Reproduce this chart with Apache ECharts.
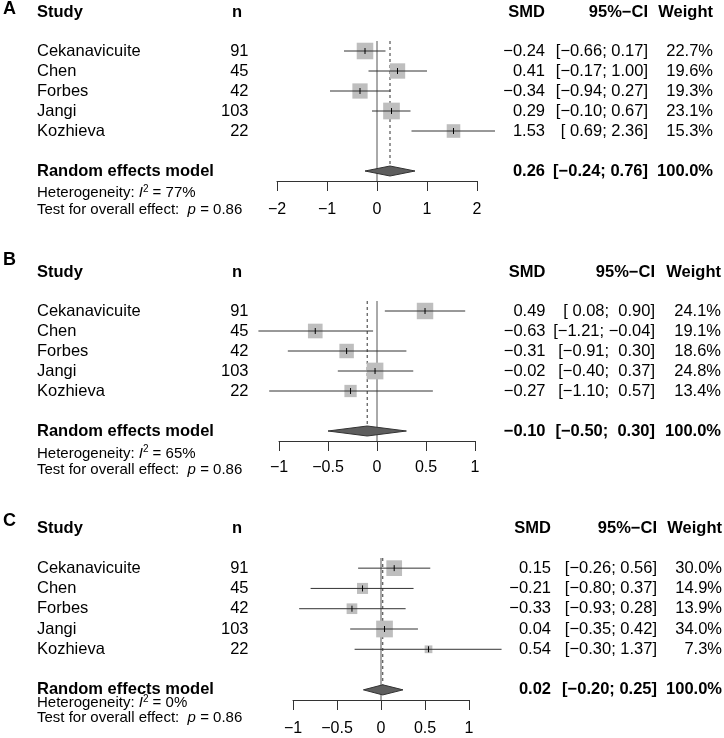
<!DOCTYPE html>
<html>
<head>
<meta charset="utf-8">
<script src="https://cdn.jsdelivr.net/npm/echarts@6/dist/echarts.min.js"></script>
<style>html,body{margin:0;padding:0;background:#fff}#c{width:724px;height:738px}</style>
</head>
<body>
<div id="c"></div>
<script>
// ---------- data ----------
const studies = ['Cekanavicuite', 'Chen', 'Forbes', 'Jangi', 'Kozhieva'];
const sampleN = [91, 45, 42, 103, 22];

const smdA = [-0.24, 0.41, -0.34, 0.29, 1.53];
const lowA = [-0.66, -0.17, -0.94, -0.10, 0.69];
const upA = [0.17, 1.00, 0.27, 0.67, 2.36];
const weightA = [22.7, 19.6, 19.3, 23.1, 15.3];
const pooledA = [0.26, -0.24, 0.76];
const i2A = 77;

const smdB = [0.49, -0.63, -0.31, -0.02, -0.27];
const lowB = [0.08, -1.21, -0.91, -0.40, -1.10];
const upB = [0.90, -0.04, 0.30, 0.37, 0.57];
const weightB = [24.1, 19.1, 18.6, 24.8, 13.4];
const pooledB = [-0.10, -0.50, 0.30];
const i2B = 65;

const smdC = [0.15, -0.21, -0.33, 0.04, 0.54];
const lowC = [-0.26, -0.80, -0.93, -0.35, -0.30];
const upC = [0.56, 0.37, 0.28, 0.42, 1.37];
const weightC = [30.0, 14.9, 13.9, 34.0, 7.3];
const pooledC = [0.02, -0.20, 0.25];
const i2C = 0;

const pOverall = [0.86, 0.86, 0.86];
const panelLetters = ['A', 'B', 'C'];
const ticksA = [-2, -1, 0, 1, 2];
const ticksB = [-1, -0.5, 0, 0.5, 1];
const ticksC = [-1, -0.5, 0, 0.5, 1];

// ---------- layout / style ----------
const FONT = '"Liberation Sans", Arial, Helvetica, sans-serif';
const FS = 16.5, FS_HET = 15, FS_LET = 18;
const layouts = [
  {left: 277, width: 200, top: 41, height: 140, letterY: 9, colSMD: 545, colCI: 648, colW: 713, hetRow: 8.1, testRow: 8.95, margin: 21},
  {left: 279, width: 196, top: 301, height: 140, letterY: 260, colSMD: 545.5, colCI: 655, colW: 721, hetRow: 8.12, testRow: 8.95, margin: 19},
  {left: 293, width: 176, top: 558, height: 142, letterY: 521, colSMD: 551, colCI: 657, colW: 722, hetRow: 7.65, testRow: 8.4, margin: 21}
];
const panels = [
  {smd: smdA, low: lowA, up: upA, w: weightA, pooled: pooledA, i2: i2A, ticks: ticksA},
  {smd: smdB, low: lowB, up: upB, w: weightB, pooled: pooledB, i2: i2B, ticks: ticksB},
  {smd: smdC, low: lowC, up: upC, w: weightC, pooled: pooledC, i2: i2C, ticks: ticksC}
];
const ROW_MIN = 0.5, ROW_MAX = 7.5, POOLED_ROW = 7, HEADER_ROW = -0.95;
const MAX_SQ = 16.7;

const minus = s => String(s).replace('-', '\u2212');
const fmt = v => (v < 0 ? '\u2212' : '') + Math.abs(v).toFixed(2);

const chart = echarts.init(document.getElementById('c'), null, {renderer: 'canvas'});

const grids = [], xAxes = [], yAxes = [], series = [];
panels.forEach((p, i) => {
  const L = layouts[i];
  const tk = p.ticks;
  grids.push({left: L.left, width: L.width, top: L.top, height: L.height, containLabel: false});
  xAxes.push({
    type: 'value', gridIndex: i, min: tk[0], max: tk[tk.length - 1], interval: tk[1] - tk[0],
    axisLine: {show: true, onZero: false, lineStyle: {color: '#333', width: 1}},
    axisTick: {show: true, length: 10, lineStyle: {color: '#333', width: 1}},
    axisLabel: {margin: L.margin, fontSize: 16, color: '#000', fontFamily: FONT, formatter: v => minus(v)},
    splitLine: {show: false}
  });
  yAxes.push({type: 'value', gridIndex: i, inverse: true, min: ROW_MIN, max: ROW_MAX, show: false});

  const maxW = Math.max(...p.w);
  // reference lines + diamond
  series.push({
    type: 'custom', xAxisIndex: i, yAxisIndex: i, clip: false, z: 1,
    data: [[p.pooled[0], p.pooled[1], p.pooled[2], POOLED_ROW]],
    renderItem: (params, api) => {
      const est = api.value(0), lo = api.value(1), hi = api.value(2), row = api.value(3);
      const z0 = api.coord([0, ROW_MIN]), z1 = api.coord([0, ROW_MAX]);
      const d0 = api.coord([est, ROW_MIN]), d1 = api.coord([est, row - 0.25]);
      const pl = api.coord([lo, row]), ph = api.coord([hi, row]);
      const pt = api.coord([est, row - 0.25]), pb = api.coord([est, row + 0.25]);
      return {type: 'group', children: [
        {type: 'line', shape: {x1: z0[0], y1: z0[1], x2: z1[0], y2: z1[1]}, style: {stroke: '#555', lineWidth: 1}},
        {type: 'line', shape: {x1: d0[0], y1: d0[1], x2: d1[0], y2: d1[1]}, style: {stroke: '#333', lineWidth: 1, lineDash: [3, 3]}},
        {type: 'polygon', shape: {points: [pl, pt, ph, pb]}, style: {fill: '#5e5e5e', stroke: '#333', lineWidth: 1}}
      ]};
    }
  });
  // studies
  series.push({
    type: 'custom', xAxisIndex: i, yAxisIndex: i, clip: false, z: 2,
    data: p.smd.map((v, k) => [v, p.low[k], p.up[k], k + 1, p.w[k]]),
    renderItem: (params, api) => {
      const est = api.value(0), lo = api.value(1), hi = api.value(2), row = api.value(3), w = api.value(4);
      const pe = api.coord([est, row]), pl = api.coord([lo, row]), ph = api.coord([hi, row]);
      const s = MAX_SQ * Math.sqrt(w / maxW);
      return {type: 'group', children: [
        {type: 'rect', shape: {x: pe[0] - s / 2, y: pe[1] - s / 2, width: s, height: s}, style: {fill: '#bebebe'}},
        {type: 'line', shape: {x1: pl[0], y1: pl[1], x2: ph[0], y2: ph[1]}, style: {stroke: '#333', lineWidth: 1}},
        {type: 'line', shape: {x1: pe[0], y1: pe[1] - 3, x2: pe[0], y2: pe[1] + 3}, style: {stroke: '#000', lineWidth: 1}}
      ]};
    }
  });
});

chart.setOption({animation: false, grid: grids, xAxis: xAxes, yAxis: yAxes, series: series});

// ---------- table text ----------
function txt(x, y, text, align, opts) {
  opts = opts || {};
  return {
    type: 'text', x: x, y: y, silent: true,
    style: Object.assign({
      text: text, fill: '#000', fontFamily: FONT, fontSize: opts.size || FS, fontWeight: opts.bold ? 'bold' : 'normal',
      align: align, textAlign: align, verticalAlign: 'middle', textVerticalAlign: 'middle'
    }, opts.extra || {})
  };
}
const graphics = [];
panels.forEach((p, i) => {
  const L = layouts[i];
  const rowY = r => chart.convertToPixel({gridIndex: i}, [0, r])[1];
  const hy = rowY(HEADER_ROW);
  graphics.push(txt(3, L.letterY, panelLetters[i], 'left', {bold: true, size: FS_LET}));
  graphics.push(txt(37, hy, 'Study', 'left', {bold: true}));
  graphics.push(txt(237, hy, 'n', 'center', {bold: true}));
  graphics.push(txt(L.colSMD, hy, 'SMD', 'right', {bold: true}));
  graphics.push(txt(L.colCI, hy, '95%\u2212CI', 'right', {bold: true}));
  graphics.push(txt(L.colW, hy, 'Weight', 'right', {bold: true}));

  const allLow = p.low.concat([p.pooled[1]]), allUp = p.up.concat([p.pooled[2]]);
  const padLo = allLow.some(v => v < 0), padUp = allUp.some(v => v < 0);
  const ci = (lo, hi) => '[' + (padLo && lo >= 0 ? ' ' : '') + fmt(lo) + '; ' + (padUp && hi >= 0 ? ' ' : '') + fmt(hi) + ']';

  studies.forEach((s, k) => {
    const y = rowY(k + 1);
    graphics.push(txt(37, y, s, 'left'));
    graphics.push(txt(248.5, y, String(sampleN[k]), 'right'));
    graphics.push(txt(L.colSMD, y, fmt(p.smd[k]), 'right'));
    graphics.push(txt(L.colCI, y, ci(p.low[k], p.up[k]), 'right'));
    graphics.push(txt(L.colW, y, p.w[k].toFixed(1) + '%', 'right'));
  });
  const py = rowY(POOLED_ROW);
  graphics.push(txt(37, py, 'Random effects model', 'left', {bold: true}));
  graphics.push(txt(L.colSMD, py, fmt(p.pooled[0]), 'right', {bold: true}));
  graphics.push(txt(L.colCI, py, ci(p.pooled[1], p.pooled[2]), 'right', {bold: true}));
  graphics.push(txt(L.colW, py, (100).toFixed(1) + '%', 'right', {bold: true}));

  const rich = {
    n: {fontSize: FS_HET, fontFamily: FONT, fill: '#000'},
    i: {fontSize: FS_HET, fontFamily: FONT, fontStyle: 'italic', fill: '#000'},
    s: {fontSize: 10, fontFamily: FONT, fill: '#000', verticalAlign: 'top', lineHeight: 18}
  };
  graphics.push(txt(37, rowY(L.hetRow), '{n|Heterogeneity: }{i|I}{s|2}{n| = ' + p.i2 + '%}', 'left',
    {size: FS_HET, extra: {rich: rich}}));
  graphics.push(txt(37, rowY(L.testRow), '{n|Test for overall effect:  }{i|p}{n| = ' + pOverall[i].toFixed(2) + '}', 'left',
    {size: FS_HET, extra: {rich: rich}}));
});
chart.setOption({graphic: graphics});
</script>
</body>
</html>
